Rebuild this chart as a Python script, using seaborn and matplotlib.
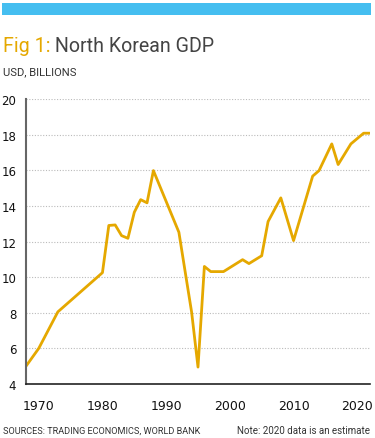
import pandas as pd
import seaborn as sns
import matplotlib.pyplot as plt
from matplotlib.patches import Rectangle

# 数据 从图上读取
years = [1968, 1970, 1973, 1980, 1981, 1982, 1983, 1984, 1985, 1986, 1987, 1988,
         1992, 1993, 1994, 1995, 1996, 1997, 1999, 2002, 2003, 2005, 2006, 2008,
         2010, 2013, 2014, 2016, 2017, 2019, 2021, 2022]
gdp = [5.0, 6.0, 8.05, 10.25, 12.9, 12.93, 12.33, 12.18, 13.64, 14.35, 14.17, 15.98,
       12.52, 10.27, 8.03, 4.95, 10.6, 10.31, 10.31, 10.98, 10.76, 11.2, 13.12, 14.45,
       12.05, 15.67, 15.98, 17.48, 16.32, 17.48, 18.08, 18.08]
y_ticks = [4, 6, 8, 10, 12, 14, 16, 18, 20]
x_ticks = [1970, 1980, 1990, 2000, 2010, 2020]

title_a = 'Fig 1:'
title_b = ' North Korean GDP'
subtitle = 'USD, BILLIONS'
source = 'SOURCES: TRADING ECONOMICS, WORLD BANK'
note = 'Note: 2020 data is an estimate'

GOLD = '#E5A800'
FONT = ['Roboto', 'DejaVu Sans']


def fit_width(fig, t, width_px):
    # 没有窄体字 按参考图宽度缩放字号
    fig.canvas.draw()
    w = t.get_window_extent().width
    t.set_fontsize(t.get_fontsize() * width_px / w)


def draw():
    sns.set_style('white')
    fig = plt.figure(figsize=(3.75, 4.39), dpi=100)
    W, H = 375, 439

    # 顶部蓝条
    fig.patches.append(Rectangle((2 / W, 1 - 16 / H), 369 / W, 12 / H,
                                 transform=fig.transFigure, color='#45BEF0', lw=0))

    # 标题 两种颜色 分两段画
    full = fig.text(3 / W, 1 - 52 / H, title_a + title_b, fontsize=16,
                    family=FONT, va='baseline', alpha=0)
    fit_width(fig, full, 212)
    size = full.get_fontsize()
    full.remove()
    t1 = fig.text(3 / W, 1 - 52 / H, title_a, color=GOLD, fontsize=size,
                  family=FONT, va='baseline')
    fig.canvas.draw()
    bb = t1.get_window_extent()
    fig.text(bb.x1 / W, 1 - 52 / H, title_b, color='#444444', fontsize=size,
             family=FONT, va='baseline')

    t = fig.text(3 / W, 1 - 75 / H, subtitle, color='#333333', fontsize=9,
                 family=FONT, va='baseline')
    fit_width(fig, t, 74)

    ax = fig.add_axes([26 / W, 1 - 385 / H, 344 / W, 285 / H])
    df = pd.DataFrame({'year': years, 'gdp': gdp})
    sns.lineplot(data=df, x='year', y='gdp', ax=ax, color=GOLD, lw=2)

    ax.set_xlim(1968, 2022)
    ax.set_ylim(4, 20)
    ax.set_yticks(y_ticks)
    ax.set_xticks(x_ticks)
    ax.set_xlabel('')
    ax.set_ylabel('')
    ax.tick_params(axis='y', length=0, pad=7, labelsize=8.5, labelcolor='#111111')
    ax.tick_params(axis='x', length=0, pad=11, labelsize=9, labelcolor='#111111')

    for y in y_ticks[1:]:
        ax.axhline(y, color='#BBBBBB', lw=0.8, ls=(0, (1, 1.5)), zorder=0)

    for s in ['top', 'right']:
        ax.spines[s].set_visible(False)
    ax.spines['left'].set_color('#666666')
    ax.spines['left'].set_linewidth(1.5)
    ax.spines['bottom'].set_color('#222222')
    ax.spines['bottom'].set_linewidth(1.2)

    t = fig.text(3 / W, 1 - 434 / H, source, color='#333333', fontsize=8,
                 family=FONT, va='baseline')
    fit_width(fig, t, 196)
    t = fig.text(370 / W, 1 - 434 / H, note, color='#333333', fontsize=8,
                 family=FONT, va='baseline', ha='right')
    fit_width(fig, t, 134)

    plt.savefig('out.png', dpi=100)


if __name__ == '__main__':
    draw()
